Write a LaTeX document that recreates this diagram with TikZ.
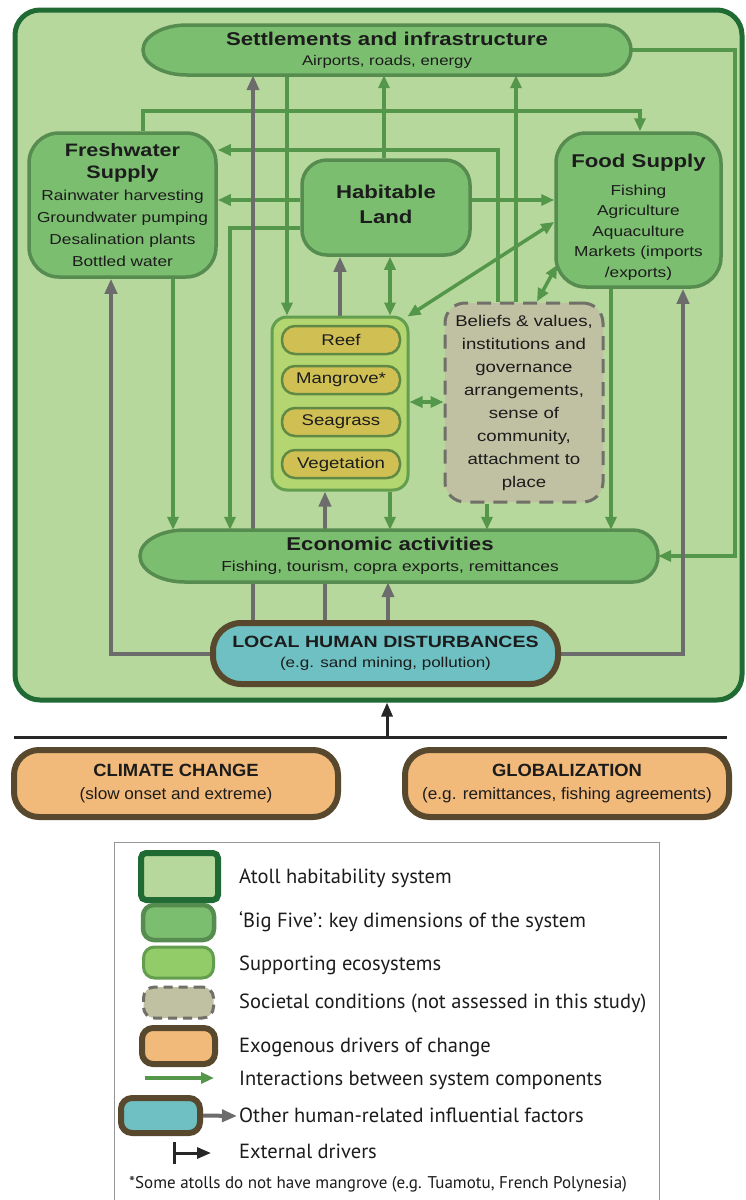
\documentclass[tikz,border=0pt]{standalone}
\usepackage{fontspec}
\setmainfont{Liberation Sans}
\newfontfamily\topf[FakeStretch=1.2]{Liberation Sans}
\newfontfamily\botf[FakeStretch=1.04]{Liberation Sans}
\newfontfamily\legf{PT Sans}
\usetikzlibrary{arrows.meta,calc}
\pgfdeclarelayer{bg}\pgfdeclarelayer{conn}
\pgfsetlayers{bg,conn,main}

\definecolor{frameFill}{RGB}{182,216,156}
\definecolor{frameDraw}{RGB}{32,106,52}
\definecolor{bigFill}{RGB}{124,190,112}
\definecolor{bigDraw}{RGB}{86,140,80}
\definecolor{ecoFill}{RGB}{180,214,112}
\definecolor{ecoDraw}{RGB}{98,158,78}
\definecolor{swEco}{RGB}{146,204,104}
\definecolor{pillFill}{RGB}{208,192,84}
\definecolor{pillDraw}{RGB}{96,138,68}
\definecolor{belFill}{RGB}{192,192,162}
\definecolor{belDraw}{RGB}{112,112,104}
\definecolor{arrG}{RGB}{84,150,74}
\definecolor{arrY}{RGB}{108,108,108}
\definecolor{lhdFill}{RGB}{110,192,194}
\definecolor{brn}{RGB}{88,72,46}
\definecolor{exoFill}{RGB}{242,186,122}
\definecolor{txt}{RGB}{28,28,28}
\definecolor{legDraw}{RGB}{150,150,150}

\tikzset{
 sysbox/.style={draw=frameDraw, fill=frameFill, line width=5pt, rounded corners=25pt, inner sep=0pt},
 bigbox/.style={draw=bigDraw, fill=bigFill, line width=3.5pt, inner sep=0pt, align=center, text=txt},
 bigshape/.style={draw=bigDraw, fill=bigFill, line width=3.5pt},
 plaintxt/.style={inner sep=0pt, align=center, text=txt},
 ecobox/.style={draw=ecoDraw, fill=ecoFill, line width=3pt, rounded corners=15pt, inner sep=0pt},
 pillbox/.style={draw=pillDraw, fill=pillFill, line width=2.5pt, rounded corners=13pt, inner sep=0pt, minimum width=118pt, minimum height=28pt, text=txt, font=\topf\fontsize{15.5}{18}\selectfont},
 belbox/.style={draw=belDraw, fill=belFill, line width=3pt, dash pattern=on 14pt off 9pt, rounded corners=20pt, inner sep=0pt, align=center, text=txt},
 lhdbox/.style={draw=brn, fill=lhdFill, line width=6pt, rounded corners=28pt, inner sep=0pt, align=center, text=txt},
 exobox/.style={draw=brn, fill=exoFill, line width=6pt, rounded corners=25pt, inner sep=0pt, align=center, text=txt},
 garr/.style={draw=arrG, line width=3.5pt, -{Triangle[length=13pt,width=11pt]}},
 gdbl/.style={draw=arrG, line width=3.5pt, {Triangle[length=13pt,width=11pt]}-{Triangle[length=13pt,width=11pt]}},
 yarr/.style={draw=arrY, line width=4pt, -{Triangle[length=15pt,width=12pt]}},
 legtxt/.style={anchor=base west, inner sep=0pt, text=txt, font=\legf\fontsize{20.5}{24}\selectfont},
}

\begin{document}
\begin{tikzpicture}[x=1pt,y=1pt]
\useasboundingbox (0,0) rectangle (746,-1200);
\begin{pgfonlayer}{bg}
\fill[white] (0,0) rectangle (746,-1200);
\node[sysbox, minimum width=727pt, minimum height=690pt] (sys) at (378.5,-355) {};
\end{pgfonlayer}

% Settlements and infrastructure
\path[bigshape] (187,-25) -- (603,-25) arc[start angle=90,end angle=-90,x radius=28pt,y radius=25pt] -- (187,-75) arc[start angle=270,end angle=90,x radius=44pt,y radius=25pt] -- cycle;
\node[plaintxt, minimum width=488pt, minimum height=50pt, font=\topf\fontsize{14}{20}\selectfont] (set) at (387,-50)
 {{\bfseries\fontsize{18.5}{20}\selectfont Settlements and infrastructure}\\Airports, roads, energy};

% Freshwater
\node[bigbox, rounded corners=30pt, minimum width=187pt, minimum height=144pt, font=\topf\fontsize{14.4}{22}\selectfont] (fw) at (122.5,-205)
 {{\bfseries\fontsize{18}{22}\selectfont Freshwater}\\{\bfseries\fontsize{18}{22}\selectfont Supply}\\Rainwater harvesting\\Groundwater pumping\\Desalination plants\\Bottled water};

% Habitable Land
\node[bigbox, rounded corners=25pt, minimum width=168pt, minimum height=95pt, font=\topf\bfseries\fontsize{18.5}{25}\selectfont] (hab) at (386,-207.5)
 {Habitable\\Land\rule[-7pt]{0pt}{7pt}};

% Food Supply
\node[bigbox, rounded corners=30pt, minimum width=165pt, minimum height=154pt, font=\topf\fontsize{14.4}{20.5}\selectfont] (food) at (638.5,-210)
 {\rule{0pt}{27pt}{\bfseries\fontsize{18.5}{20.5}\selectfont Food Supply}\\[7.5pt]Fishing\\Agriculture\\Aquaculture\\Markets (imports\\/exports)};

% Supporting ecosystems
\node[ecobox, minimum width=136pt, minimum height=173pt] (eco) at (340,-403.5) {};
\node[pillbox] (reef) at (341,-340) {Reef};
\node[pillbox] (mang) at (341,-380) {Mangrove*};
\node[pillbox] (seag) at (341,-422) {Seagrass};
\node[pillbox] (veg) at (341,-464) {Vegetation};

% Beliefs
\node[belbox, minimum width=158pt, minimum height=199pt, font=\topf\fontsize{15.5}{23}\selectfont] (bel) at (524,-402.5)
 {Beliefs \& values,\\institutions and\\governance\\arrangements,\\sense of\\community,\\attachment to\\place};

% Economic activities
\path[bigshape] (185,-530) -- (633,-530) arc[start angle=90,end angle=-90,x radius=25pt,y radius=26pt] -- (185,-582) arc[start angle=270,end angle=90,x radius=45pt,y radius=26pt] -- cycle;
\node[plaintxt, minimum width=518pt, minimum height=52pt, font=\topf\fontsize{14.5}{21}\selectfont] (econ) at (399,-556)
 {{\bfseries\fontsize{18.5}{21}\selectfont Economic activities\rule{18pt}{0pt}}\\Fishing, tourism, copra exports, remittances\rule{18pt}{0pt}};

% Local human disturbances
\node[lhdbox, minimum width=345pt, minimum height=61pt, font=\topf\fontsize{14.2}{20}\selectfont] (lhd) at (385.5,-653.5)
 {{\bfseries\fontsize{16.3}{20}\selectfont LOCAL HUMAN DISTURBANCES}\\(e.g. sand mining, pollution)};

% Connectors
\begin{pgfonlayer}{conn}
\draw[garr] (set.south -| 287,0) -- (eco.north -| 287,0);
\draw[garr] (hab.north -| 384,0) -- (set.south -| 384,0);
\draw[garr] (hab.west |- 0,-200) -- (fw.east |- 0,-200);
\draw[garr] (hab.west |- 0,-228) -| (econ.north -| 230,0);
\draw[garr] (hab.east |- 0,-200) -- (food.west |- 0,-200);
\draw[gdbl] (hab.south -| 390,0) -- (eco.north -| 390,0);
\draw[gdbl] ($(eco.north east)+(-2,-1)$) -- (food.west |- 0,-222);
\draw[gdbl] (eco.east |- 0,-402) -- (bel.west |- 0,-402);
\draw[garr] (eco.south -| 390,0) -- (econ.north -| 390,0);
\draw[garr] (bel.south -| 487,0) -- (econ.north -| 487,0);
\draw[gdbl] (bel.north -| 537,0) -- ($(food.south west)+(3,24)$);
\draw[garr] (bel.north -| 498,0) |- (fw.east |- 0,-150);
\draw[garr] (bel.north -| 516,0) -- (set.south -| 516,0);
\draw[garr] (fw.north -| 143,0) -- (143,-111) -| (food.north -| 640,0);
\draw[garr] (fw.south -| 173,0) -- (econ.north -| 173,0);
\draw[garr] (food.south -| 611,0) -- (econ.north -| 611,0);
\draw[garr] (set.east) -- (735,-50) |- (econ.east);
\draw[yarr] (lhd.north -| 253,0) -- (set.south -| 253,0);
\draw[yarr] (lhd.north -| 325,0) -- (eco.south -| 325,0);
\draw[yarr] (lhd.north -| 388,0) -- (econ.south -| 388,0);
\draw[yarr] (eco.north -| 340,0) -- (hab.south -| 340,0);
\draw[yarr] (lhd.west) -| (fw.south -| 111,0);
\draw[yarr] (lhd.east) -| (food.south -| 683,0);
\end{pgfonlayer}

% External drivers
\coordinate (extL) at (14,-737);
\coordinate (extR) at (727,-737);
\coordinate (extM) at (387,-737);
\draw[black!85, line width=3pt] (extL) -- (extR);
\draw[black!85, line width=3pt, -{Triangle[length=14pt,width=11pt]}] (extM) -- (extM |- sys.south);

\node[exobox, minimum width=324pt, minimum height=67pt, font=\botf\fontsize{16.5}{23}\selectfont] (clim) at (176,-783.5)
 {{\bfseries\fontsize{17.7}{23}\selectfont CLIMATE CHANGE}\\(slow onset and extreme)};
\node[exobox, minimum width=324pt, minimum height=67pt, font=\botf\fontsize{16.5}{23}\selectfont] (glob) at (567,-783.5)
 {{\bfseries\fontsize{17.7}{23}\selectfont GLOBALIZATION}\\(e.g. remittances, fishing agreements)};

% Legend
\node[draw=legDraw, line width=1.3pt, minimum width=545pt, minimum height=380pt, anchor=north west, inner sep=0pt] (leg) at (114,-842) {};
\node[sysbox, rounded corners=5pt, line width=6pt, minimum width=77pt, minimum height=47pt] (sw1) at (179.5,-876.5) {};
\node[bigbox, rounded corners=11pt, line width=4.5pt, minimum width=71pt, minimum height=35pt] (sw2) at (178.5,-922.5) {};
\node[ecobox, fill=swEco, rounded corners=11pt, minimum width=70pt, minimum height=31pt] (sw3) at (178.5,-962.5) {};
\node[belbox, rounded corners=11pt, dash pattern=on 9pt off 6pt, minimum width=70pt, minimum height=31pt] (sw4) at (178.5,-1002.5) {};
\node[exobox, rounded corners=11pt, minimum width=73pt, minimum height=36pt] (sw5) at (178.5,-1046) {};
\coordinate (la1) at (145,-1078);
\coordinate (la2) at (214,-1078);
\draw[garr] (la1) -- (la2);
\node[lhdbox, rounded corners=11pt, minimum width=79pt, minimum height=35pt] (sw7) at (160.5,-1115.5) {};
\coordinate (la3) at (237,-1116);
\draw[yarr] (sw7.east) -- (la3);
\coordinate (la4) at (173,-1153);
\coordinate (la5) at (211,-1153);
\draw[black!85, line width=3pt, {Bar[width=22pt]}-{Triangle[length=14pt,width=11pt]}] (la4) -- (la5);

\node[legtxt] (t1) at (239,-883) {Atoll habitability system};
\node[legtxt] (t2) at (239,-927) {‘Big Five’: key dimensions of the system};
\node[legtxt] (t3) at (239,-970) {Supporting ecosystems};
\node[legtxt] (t4) at (239,-1008) {Societal conditions (not assessed in this study)};
\node[legtxt] (t5) at (239,-1052) {Exogenous drivers of change};
\node[legtxt] (t6) at (239,-1085) {Interactions between system components};
\node[legtxt] (t7) at (239,-1122) {Other human-related influential factors};
\node[legtxt] (t8) at (239,-1158) {External drivers};
\node[legtxt, font=\legf\fontsize{17}{20}\selectfont] (foot) at (129,-1188) {*Some atolls do not have mangrove (e.g. Tuamotu, French Polynesia)};
\end{tikzpicture}
\end{document}
